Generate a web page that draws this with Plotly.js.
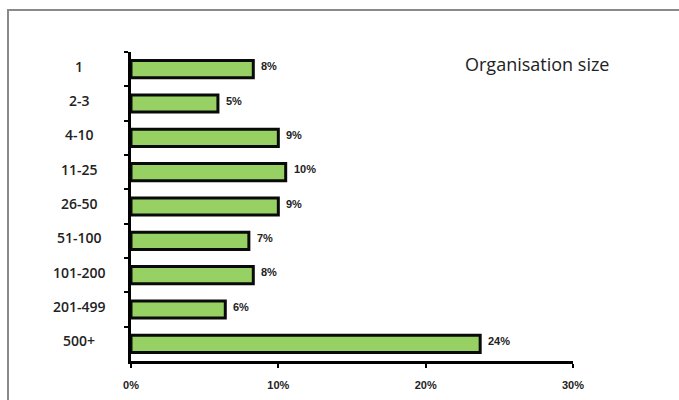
<!DOCTYPE html>
<html>
<head>
<meta charset="utf-8">
<script src="https://cdn.plot.ly/plotly-3.0.1.min.js"></script>
<style>
html,body{margin:0;padding:0;background:#fff;}
#chart{width:679px;height:400px;position:absolute;left:0;top:0;}
#frame{position:absolute;left:7px;top:9px;width:680px;height:400px;border-top:2px solid #8a8a8a;border-left:2px solid #8a8a8a;pointer-events:none;}
</style>
</head>
<body>
<div id="chart"></div>
<div id="frame"></div>
<script>
// Data
var categories = ["1","2-3","4-10","11-25","26-50","51-100","101-200","201-499","500+"];
var values = [8.3, 5.9, 10.0, 10.5, 10.0, 8.0, 8.3, 6.4, 23.7];
var valueLabels = ["8%","5%","9%","10%","9%","7%","8%","6%","24%"];
var xTickVals = [0, 10, 20, 30];
var xTickText = ["0%","10%","20%","30%"];
var chartTitle = "Organisation size";

var trace = {
  type: "bar",
  orientation: "h",
  x: values,
  y: categories,
  marker: {color: "#97d063", line: {color: "#0a0a0a", width: 3}},
  hoverinfo: "skip"
};

var annotations = [];
categories.forEach(function(c, i){
  // category axis: use the category index as position
  annotations.push({
    xref: "paper", yref: "y", x: -0.117, y: i, text: c, showarrow: false,
    xanchor: "center", yanchor: "middle", yshift: 3,
    font: {family: "Open Sans, Arial, sans-serif", size: 14, color: "#222", weight: 600}
  });
  annotations.push({
    xref: "x", yref: "y", x: values[i], y: i, text: valueLabels[i], showarrow: false,
    xanchor: "left", yanchor: "middle", xshift: 6, yshift: 3,
    font: {family: "Arial, Liberation Sans, sans-serif", size: 11, color: "#222", weight: 800}
  });
});
annotations.push({
  xref: "paper", yref: "paper", x: 0.919, y: 0.961, text: chartTitle, showarrow: false,
  xanchor: "center", yanchor: "middle",
  font: {family: "Open Sans, sans-serif", size: 18, color: "#222", weight: 400}
});

var layout = {
  width: 679, height: 400,
  margin: {l: 131, r: 106, t: 52, b: 39},
  paper_bgcolor: "rgba(0,0,0,0)",
  plot_bgcolor: "rgba(0,0,0,0)",
  showlegend: false,
  bargap: 0.5,
  xaxis: {
    range: [0, 30], tickvals: xTickVals, ticktext: xTickText,
    showgrid: false, zeroline: false, showline: true, linecolor: "#000", linewidth: 3,
    ticks: "outside", ticklen: 4, tickwidth: 2, tickcolor: "#000",
    tickfont: {family: "Arial, Liberation Sans, sans-serif", size: 11, color: "#222", weight: 800},
    ticklabelstandoff: 8, fixedrange: true
  },
  yaxis: {
    type: "category", autorange: "reversed",
    showticklabels: false, showgrid: false, zeroline: false,
    showline: true, linecolor: "#000", linewidth: 3,
    ticks: "outside", tickson: "boundaries", ticklen: 4, tickwidth: 2, tickcolor: "#000",
    fixedrange: true
  },
  annotations: annotations
};

Plotly.newPlot("chart", [trace], layout, {displayModeBar: false, staticPlot: true});
</script>
</body>
</html>
